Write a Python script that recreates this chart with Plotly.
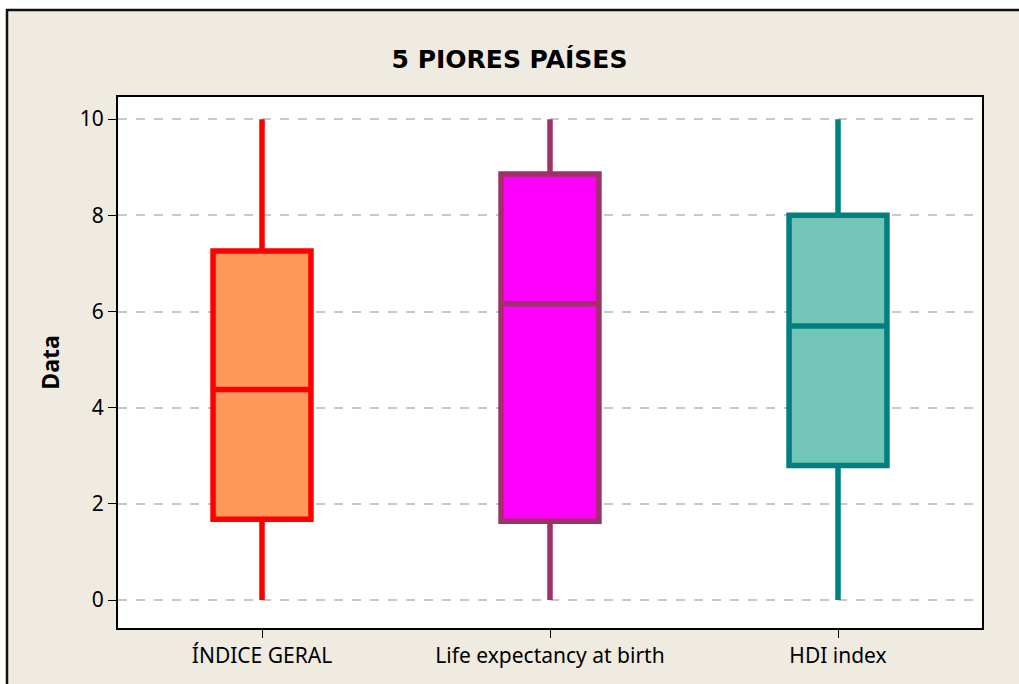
import plotly.graph_objects as go

# box summaries
categories = ['ÍNDICE GERAL', 'Life expectancy at birth', 'HDI index']
q1 = [1.68, 1.64, 2.80]
medians = [4.38, 6.16, 5.70]
q3 = [7.26, 8.86, 8.00]
lower = [0, 0, 0]
upper = [10, 10, 10]

fill_colors = ['#FF9959', '#FF00FF', '#73C5B7']
line_colors = ['#FF0000', '#9E3268', '#008080']

beige = '#EFEBE0'
font = 'Noto Sans'

fig = go.Figure()
for i, cat in enumerate(categories):
    fig.add_trace(go.Box(
        x=[cat], q1=[q1[i]], median=[medians[i]], q3=[q3[i]],
        lowerfence=[lower[i]], upperfence=[upper[i]],
        fillcolor=fill_colors[i],
        line=dict(color=line_colors[i], width=5.5),
        whiskerwidth=0, width=0.34, boxpoints=False,
        hoverinfo='y', showlegend=False,
    ))

fig.update_layout(
    width=1019, height=684,
    boxmode='overlay',
    paper_bgcolor=beige, plot_bgcolor='white',
    margin=dict(l=118, r=37, t=97, b=56),
    title=dict(text='<b>5 PIORES PAÍSES</b>', x=0.5, xanchor='center',
               y=1 - 59 / 684, yanchor='middle',
               font=dict(family='DejaVu Sans', size=25, color='black')),
    font=dict(family=font, size=21, color='black'),
)
fig.update_xaxes(
    range=[-0.5, 2.5], showline=True, linecolor='black', linewidth=2,
    mirror=True, ticks='outside', ticklen=8, tickcolor='black',
    showgrid=False, tickfont=dict(size=21),
)
fig.update_yaxes(
    range=[-0.58, 10.46], tickvals=[0, 2, 4, 6, 8, 10],
    showline=True, linecolor='black', linewidth=2, mirror=True,
    ticks='outside', ticklen=8, tickcolor='black',
    showgrid=True, gridcolor='#C8C8C8', griddash='dash', gridwidth=1.5,
    zeroline=False, tickfont=dict(size=21),
    title=dict(text='<b>Data</b>', font=dict(size=23), standoff=14),
)

# outer frame: white strip above and left, black border lines
pw, ph = 1019 - 118 - 37, 684 - 97 - 56
def px_x(v):
    return (v - 118) / pw
def px_y(v):
    return (684 - 56 - v) / ph

fig.add_shape(type='rect', xref='paper', yref='paper', layer='above',
              x0=px_x(-5), x1=px_x(1030), y0=px_y(9), y1=px_y(-5),
              fillcolor='white', line_width=0)
fig.add_shape(type='rect', xref='paper', yref='paper', layer='above',
              x0=px_x(-5), x1=px_x(6), y0=px_y(700), y1=px_y(-5),
              fillcolor='white', line_width=0)
fig.add_shape(type='path', xref='paper', yref='paper', layer='above',
              path=f'M {px_x(7)} {px_y(700)} L {px_x(7)} {px_y(10)} L {px_x(1030)} {px_y(10)}',
              line=dict(color='#111111', width=2.5))

fig.write_html('out.html', config={'displayModeBar': False},
               post_script="document.body.style.margin='0';")
